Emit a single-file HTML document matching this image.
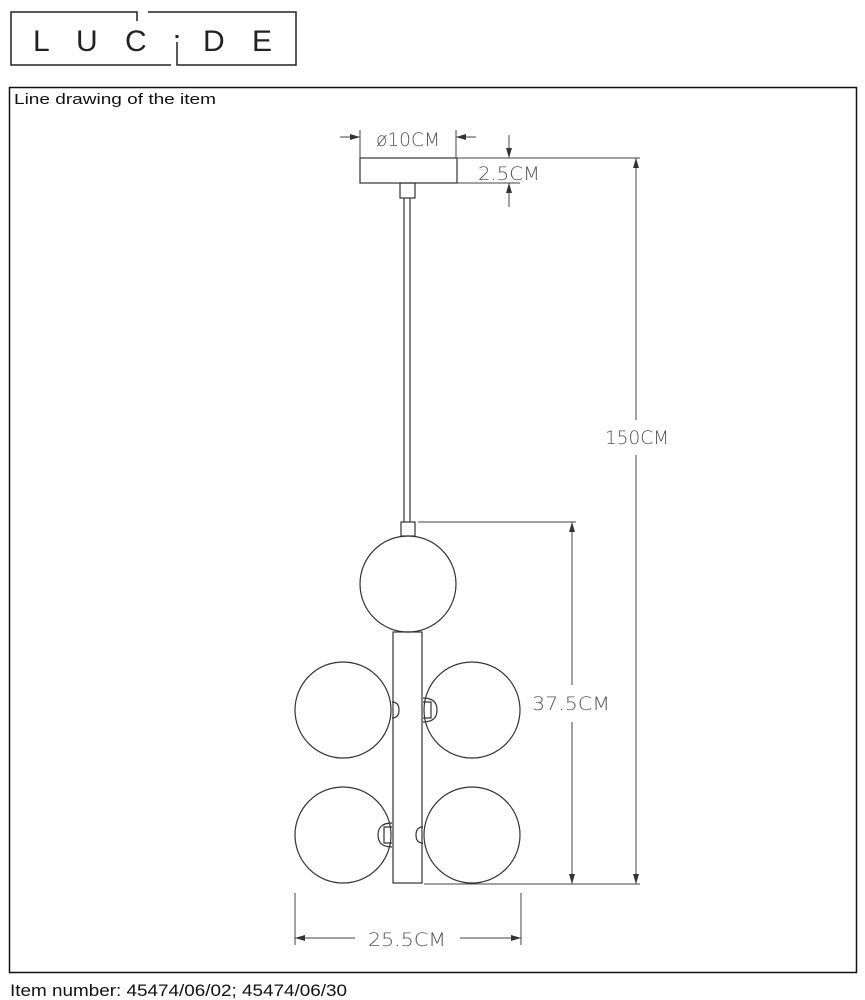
<!DOCTYPE html>
<html><head><meta charset="utf-8"><style>
html,body{margin:0;padding:0;background:#fff;width:865px;height:1000px;overflow:hidden}
svg{display:block}
</style></head><body>
<svg width="865" height="1000" xmlns="http://www.w3.org/2000/svg">
<defs>
<marker id="a" markerWidth="10" markerHeight="6" refX="10" refY="3" orient="auto" markerUnits="userSpaceOnUse"><path d="M0,0 L10,3 L0,6 Z" fill="#333"/></marker>
</defs>
<!-- logo -->
<g fill="none" stroke="#222" stroke-width="1.5">
<polyline points="171,65 11,65 11,12 137,12 137,21"/>
<polyline points="148,12 296,12 296,65 177,65 177,42"/>
</g>
<g font-family="Liberation Sans, sans-serif" font-size="30" fill="#222">
<text x="33" y="51">L</text><text x="76" y="51">U</text><text x="125" y="51">C</text><text x="203" y="51">D</text><text x="252" y="51">E</text>
</g>
<rect x="175.5" y="35" width="3" height="3" fill="#222"/>
<!-- frame -->
<rect x="9.5" y="87.5" width="847" height="885" fill="none" stroke="#111" stroke-width="1.5"/>
<text x="14" y="104" font-family="Liberation Sans, sans-serif" font-size="15" fill="#111" textLength="202" lengthAdjust="spacingAndGlyphs">Line drawing of the item</text>
<text x="10" y="996" font-family="Liberation Sans, sans-serif" font-size="17" fill="#111" textLength="337" lengthAdjust="spacingAndGlyphs">Item number: 45474/06/02; 45474/06/30</text>
<!-- drawing -->
<g fill="none" stroke="#333" stroke-width="1.2">
<rect x="360" y="158" width="97" height="25"/>
<rect x="400" y="183" width="15" height="15"/>
<line x1="404" y1="198" x2="404" y2="522"/><line x1="410" y1="198" x2="410" y2="522"/>
<rect x="401" y="522" width="14" height="14"/>
<circle cx="408" cy="584" r="48"/>
<rect x="393" y="632" width="29" height="251"/>
<circle cx="343" cy="710" r="48"/>
<circle cx="472" cy="710" r="48"/>
<circle cx="343" cy="835" r="48"/>
<circle cx="472" cy="835" r="48"/>
<path d="M392,702 q7,0 7,8 q0,8 -7,8"/>
<path d="M423,698 q14,0 14,12 q0,12 -14,12 M423,702 h8 v16 h-8"/>
<path d="M392,823 q-14,0 -14,12 q0,12 14,12 M392,827 h-8 v16 h8"/>
<path d="M423,827 q-7,0 -7,8 q0,8 7,8"/>
</g>
<!-- dimensions -->
<g stroke="#444" stroke-width="1" fill="none">
<line x1="360" y1="130" x2="360" y2="158"/><line x1="456" y1="130" x2="456" y2="158"/>
<line x1="340" y1="137" x2="360" y2="137" marker-end="url(#a)"/>
<line x1="476" y1="137" x2="456" y2="137" marker-end="url(#a)"/>
<line x1="457" y1="158" x2="640" y2="158"/>
<line x1="457" y1="183" x2="520" y2="183"/>
<line x1="509" y1="135" x2="509" y2="158" marker-end="url(#a)"/>
<line x1="509" y1="207" x2="509" y2="183" marker-end="url(#a)"/>
<line x1="636" y1="420" x2="636" y2="158" marker-end="url(#a)"/>
<line x1="636" y1="455" x2="636" y2="884" marker-end="url(#a)"/>
<line x1="424" y1="884" x2="640" y2="884"/>
<line x1="418" y1="522" x2="576" y2="522"/>
<line x1="572" y1="685" x2="572" y2="522" marker-end="url(#a)"/>
<line x1="572" y1="722" x2="572" y2="884" marker-end="url(#a)"/>
<line x1="295" y1="893" x2="295" y2="945"/><line x1="521" y1="893" x2="521" y2="945"/>
<line x1="355" y1="938" x2="295" y2="938" marker-end="url(#a)"/>
<line x1="460" y1="938" x2="521" y2="938" marker-end="url(#a)"/>
</g>
<g font-family="DejaVu Sans, sans-serif" font-size="19" fill="#555" font-weight="300">
<text x="376" y="146" textLength="64" lengthAdjust="spacingAndGlyphs">ø10CM</text>
<text x="478" y="180" textLength="62" lengthAdjust="spacingAndGlyphs">2.5CM</text>
<text x="605" y="444" textLength="64" lengthAdjust="spacingAndGlyphs">150CM</text>
<text x="532" y="710" textLength="78" lengthAdjust="spacingAndGlyphs">37.5CM</text>
<text x="368" y="946" textLength="78" lengthAdjust="spacingAndGlyphs">25.5CM</text>
</g>
</svg>
</body></html>
